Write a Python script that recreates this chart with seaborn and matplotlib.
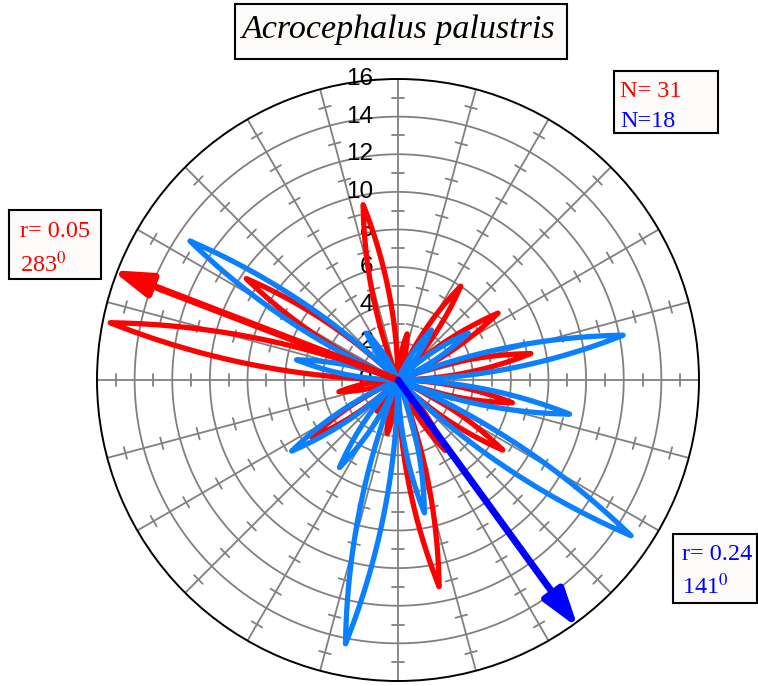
# ---------- Import Libraries ----------

import numpy as np
import pandas as pd
import matplotlib
matplotlib.use("Agg")
import matplotlib.pyplot as plt
from matplotlib.patches import Rectangle
import seaborn as sns

# ---------- Data ----------

# 16 sectors of 22.5 deg, centre bearings clockwise from north
sector_centres = [11.25, 33.75, 56.25, 78.75, 101.25, 123.75, 146.25, 168.75,
                  191.25, 213.75, 236.25, 258.75, 281.25, 303.75, 326.25, 348.75]
red_values = [2.5, 6.0, 6.4, 7.2, 6.2, 6.7, 4.5, 11.2,
              2.9, 2.0, 5.5, 3.2, 15.6, 9.7, 0.0, 9.5]
blue_values = [0.0, 3.2, 4.5, 12.2, 9.3, 14.9, 0.0, 7.2,
               14.3, 5.6, 6.8, 0.0, 5.5, 13.3, 3.0, 0.0]

# mean vectors as drawn
red_arrow_dir = 291
blue_arrow_dir = 144
arrow_len = 16.3

radial_ticks = [0, 2, 4, 6, 8, 10, 12, 14, 16]

W, H = 758, 686
RED = "#ff0000"
PETAL_BLUE = "#0a80ff"
ARROW_BLUE = "#0000ff"
GRID = "#808080"

# ---------- Build petal outlines ----------

half_width = np.deg2rad(10.5)
rows = []
pid = 0
for group, vals in (("red", red_values), ("blue", blue_values)):
    for c, L in zip(sector_centres, vals):
        if L <= 0:
            continue
        phi = np.linspace(-half_width, half_width, 121)
        r = L * (1 - np.abs(phi) / half_width)
        for t, rr in zip(np.deg2rad(c) + phi, r):
            rows.append((group, pid, t, rr))
        pid += 1
petals = pd.DataFrame(rows, columns=["group", "petal", "theta", "r"])

# ---------- Plot ----------

sns.set_theme(style="white")
plt.rcParams["mathtext.fontset"] = "stix"

fig = plt.figure(figsize=(W / 100, H / 100), dpi=100)
cx, cy, R = 398, 380, 301
ax = fig.add_axes([(cx - R) / W, (H - cy - R) / H, 2 * R / W, 2 * R / H],
                  projection="polar")
ax.set_theta_zero_location("N")
ax.set_theta_direction(-1)
ax.grid(False)
ax.set_xticks([])
ax.set_yticks([])
ax.set_facecolor("white")

# grid rings, spokes, and little ticks on the spokes
ring_t = np.linspace(0, 2 * np.pi, 361)
for rr in range(2, 16, 2):
    ax.plot(ring_t, np.full_like(ring_t, rr), color=GRID, lw=1.3, zorder=1)
h = 0.32
for a in range(0, 360, 15):
    t = np.deg2rad(a)
    ax.plot([t, t], [0, 16], color=GRID, lw=1.3, zorder=1)
    for rr in range(3, 16, 2):
        dt = np.arctan(h / rr)
        rh = np.hypot(rr, h)
        ax.plot([t - dt, t + dt], [rh, rh], color=GRID, lw=1.3, zorder=1)

for v in radial_ticks:
    ax.annotate(str(v), xy=(0, v), xytext=(-25, 0), textcoords="offset pixels",
                ha="right", va="center", fontsize=17.5, family="Liberation Sans",
                color="black", zorder=2, annotation_clip=False)

sns.lineplot(data=petals, x="theta", y="r", hue="group", units="petal",
             estimator=None, sort=False, hue_order=["red", "blue"],
             palette={"red": RED, "blue": PETAL_BLUE}, lw=3.8,
             legend=False, ax=ax, zorder=3)

for d, col in ((red_arrow_dir, RED), (blue_arrow_dir, ARROW_BLUE)):
    ax.annotate("", xy=(np.deg2rad(d), arrow_len), xytext=(0, 0),
                arrowprops=dict(arrowstyle="-|>,head_length=1.15,head_width=0.36",
                                mutation_scale=20, lw=5, color=col,
                                shrinkA=0, shrinkB=0),
                zorder=4, annotation_clip=False)

ax.set_xlim(0, 2 * np.pi)
ax.set_ylim(0, 16)
ax.set_xlabel("")
ax.set_ylabel("")
ax.spines["polar"].set_color("black")
ax.spines["polar"].set_linewidth(1.4)

# ---------- Text boxes ----------

def box(x0, y0, x1, y1):
    fig.add_artist(Rectangle((x0 / W, 1 - y1 / H), (x1 - x0) / W, (y1 - y0) / H,
                             transform=fig.transFigure, facecolor="#fcfbf9",
                             edgecolor="black", lw=1.5, zorder=5))

def label(x, y, s, color, **kw):
    fig.text(x / W, 1 - y / H, s, color=color, va="baseline", zorder=6,
             family="Liberation Serif", **kw)

box(235, 4, 567, 59)
label(399, 38, "Acrocephalus palustris", "black", ha="center", size=24.5, style="italic")

box(614, 71, 718, 133)
label(620, 97, "N= 31", RED, size=17.5)
label(620, 127, "N=18", ARROW_BLUE, size=17.5)

box(9, 210, 101, 279)
label(20, 237, "r= 0.05", RED, size=17.5)
label(20, 272, "283$^{0}$", RED, size=17.5)

box(673, 534, 757, 603)
label(682, 560, "r= 0.24", ARROW_BLUE, size=17.5)
label(682, 594, "141$^{0}$", ARROW_BLUE, size=17.5)

fig.savefig("out.png", dpi=100)
